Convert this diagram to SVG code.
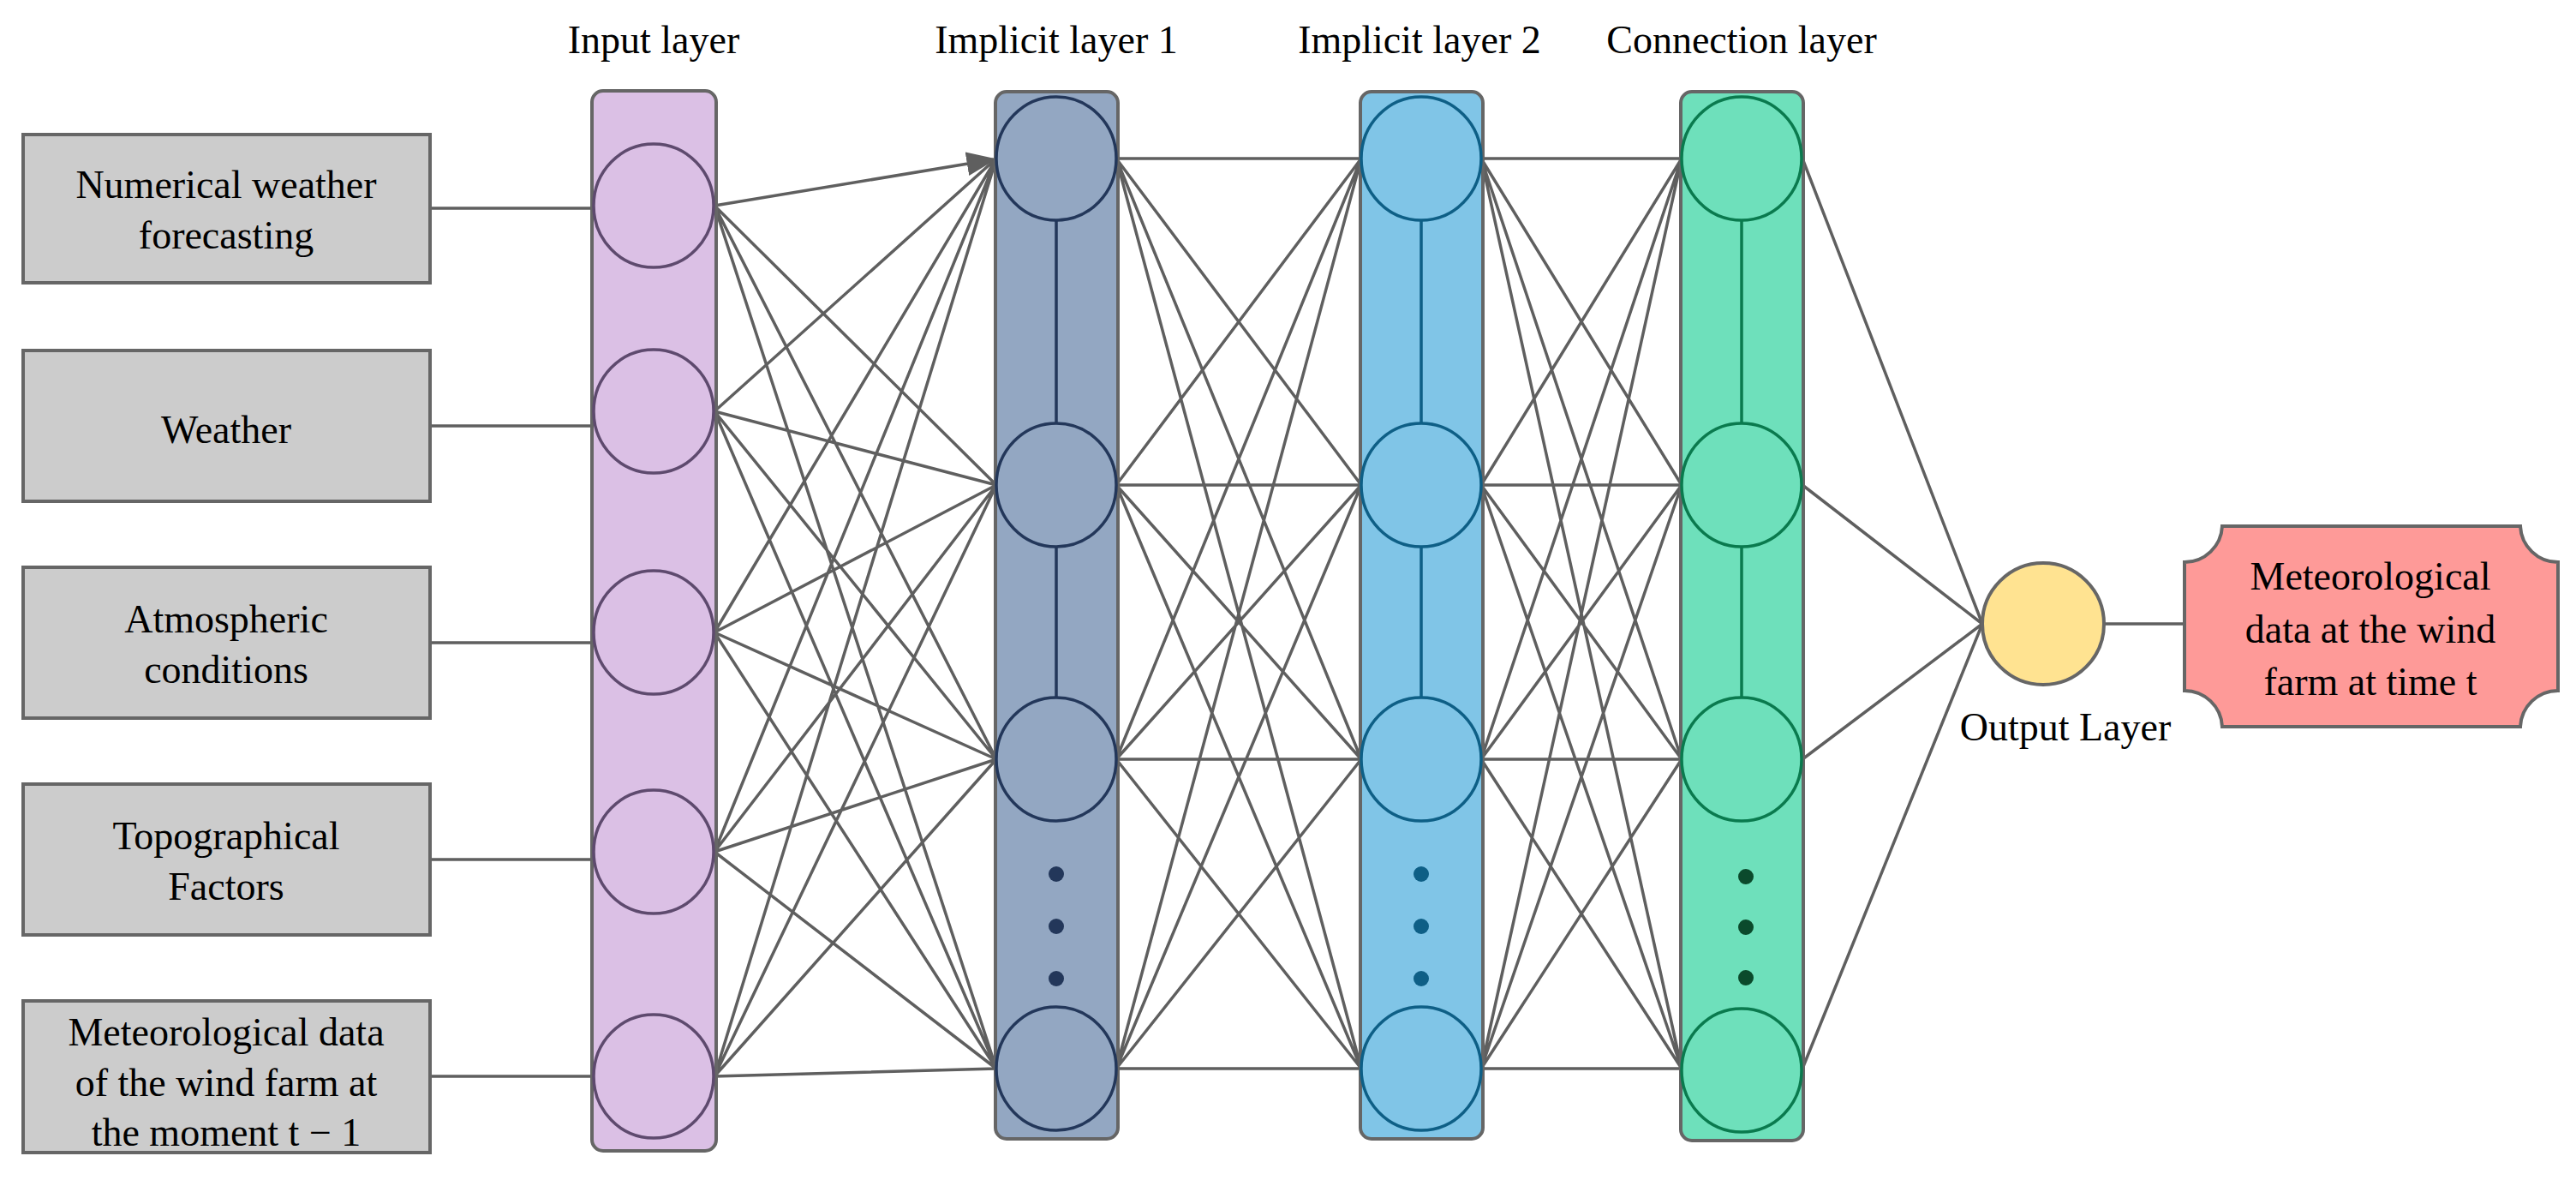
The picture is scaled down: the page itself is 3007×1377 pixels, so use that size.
<svg xmlns="http://www.w3.org/2000/svg" width="3007" height="1377" viewBox="0 0 3007 1377">
<style>
text{font-family:"Liberation Serif","Times New Roman",serif;font-size:46px;fill:#000;text-anchor:middle}
.box{fill:#cccccc;stroke:#666;stroke-width:4}
.col{stroke:#666;stroke-width:4}
.ln{stroke:#5f5f5f;stroke-width:3.5;fill:none}
</style>
<defs><marker id="ah" markerWidth="10" markerHeight="8" refX="9" refY="4" orient="auto" markerUnits="strokeWidth"><path d="M0,0 L10,4 L0,8 z" fill="#5f5f5f"/></marker></defs>
<g id="connectors" class="ln">
<path d="M502,243H692M502,497H692M502,750H692M502,1003H692M502,1256H692"/>
<path marker-end="url(#ah)" d="M834,240L1160,186"/>
<path d="M834,240L1163,566M834,240L1163,886M834,240L1163,1247
M834,480L1163,185M834,480L1163,566M834,480L1163,886M834,480L1163,1247
M834,738L1163,185M834,738L1163,566M834,738L1163,886M834,738L1163,1247
M834,994L1163,185M834,994L1163,566M834,994L1163,886M834,994L1163,1247
M834,1256L1163,185M834,1256L1163,566M834,1256L1163,886M834,1256L1163,1247"/>
<path d="M1303,185L1589,185M1303,185L1589,566M1303,185L1589,886M1303,185L1589,1247
M1303,566L1589,185M1303,566L1589,566M1303,566L1589,886M1303,566L1589,1247
M1303,886L1589,185M1303,886L1589,566M1303,886L1589,886M1303,886L1589,1247
M1303,1247L1589,185M1303,1247L1589,566M1303,1247L1589,886M1303,1247L1589,1247"/>
<path d="M1729,185L1963,185M1729,185L1963,566M1729,185L1963,886M1729,185L1963,1247
M1729,566L1963,185M1729,566L1963,566M1729,566L1963,886M1729,566L1963,1247
M1729,886L1963,185M1729,886L1963,566M1729,886L1963,886M1729,886L1963,1247
M1729,1247L1963,185M1729,1247L1963,566M1729,1247L1963,886M1729,1247L1963,1247"/>
<path d="M2104,185L2314,728M2104,566L2314,728M2104,886L2314,728M2104,1247L2314,728M2456,728H2549"/>
</g>
<g id="in1"><rect class="box" x="27" y="157" width="475" height="173"/><text x="264" y="231">Numerical weather</text><text x="264" y="290">forecasting</text></g>
<g id="in2"><rect class="box" x="27" y="409" width="475" height="176"/><text x="264" y="517">Weather</text></g>
<g id="in3"><rect class="box" x="27" y="662" width="475" height="176"/><text x="264" y="738">Atmospheric</text><text x="264" y="797">conditions</text></g>
<g id="in4"><rect class="box" x="27" y="915" width="475" height="176"/><text x="264" y="991">Topographical</text><text x="264" y="1050">Factors</text></g>
<g id="in5"><rect class="box" x="27" y="1168" width="475" height="177"/><text x="264" y="1220">Meteorological data</text><text x="264" y="1279">of the wind farm at</text><text x="264" y="1337">the moment t − 1</text></g>
<g id="input-layer">
<text x="763" y="62">Input layer</text>
<rect class="col" x="691" y="106" width="145" height="1237" rx="13" fill="#dbc0e5"/>
<g fill="#dbc0e5" stroke="#5e4a6e" stroke-width="3.5">
<ellipse cx="763" cy="240" rx="70" ry="72"/><ellipse cx="763" cy="480" rx="70" ry="72"/><ellipse cx="763" cy="738" rx="70" ry="72"/><ellipse cx="763" cy="994" rx="70" ry="72"/><ellipse cx="763" cy="1256" rx="70" ry="72"/></g>
</g>
<g id="hidden1">
<text x="1233" y="62">Implicit layer 1</text>
<rect class="col" x="1162" y="107" width="143" height="1222" rx="13" fill="#93a7c2"/>
<path d="M1233,257V494M1233,638V814" stroke="#23375a" stroke-width="3.5"/>
<g fill="#93a7c2" stroke="#23375a" stroke-width="3.5">
<ellipse cx="1233" cy="185" rx="70" ry="72"/><ellipse cx="1233" cy="566" rx="70" ry="72"/><ellipse cx="1233" cy="886" rx="70" ry="72"/><ellipse cx="1233" cy="1247" rx="70" ry="72"/></g>
<g fill="#23375a"><circle cx="1233" cy="1020" r="9"/><circle cx="1233" cy="1081" r="9"/><circle cx="1233" cy="1142" r="9"/></g>
</g>
<g id="hidden2">
<text x="1657" y="62">Implicit layer 2</text>
<rect class="col" x="1588" y="107" width="143" height="1222" rx="13" fill="#80c5e7"/>
<path d="M1659,257V494M1659,638V814" stroke="#0e5f86" stroke-width="3.5"/>
<g fill="#80c5e7" stroke="#0e5f86" stroke-width="3.5">
<ellipse cx="1659" cy="185" rx="70" ry="72"/><ellipse cx="1659" cy="566" rx="70" ry="72"/><ellipse cx="1659" cy="886" rx="70" ry="72"/><ellipse cx="1659" cy="1247" rx="70" ry="72"/></g>
<g fill="#0e5f86"><circle cx="1659" cy="1020" r="9"/><circle cx="1659" cy="1081" r="9"/><circle cx="1659" cy="1142" r="9"/></g>
</g>
<g id="connection">
<text x="2033" y="62">Connection layer</text>
<rect class="col" x="1962" y="107" width="143" height="1224" rx="13" fill="#6ee0bb"/>
<path d="M2033,257V494M2033,638V814" stroke="#0a7a4e" stroke-width="3.5"/>
<g fill="#6ee0bb" stroke="#0a7a4e" stroke-width="3.5">
<ellipse cx="2033" cy="185" rx="70" ry="72"/><ellipse cx="2033" cy="566" rx="70" ry="72"/><ellipse cx="2033" cy="886" rx="70" ry="72"/><ellipse cx="2033" cy="1249" rx="70" ry="72"/></g>
<g fill="#0b4a2c"><circle cx="2038" cy="1023" r="9"/><circle cx="2038" cy="1082" r="9"/><circle cx="2038" cy="1141" r="9"/></g>
</g>
<g id="output">
<circle cx="2385" cy="728" r="71" fill="#ffe391" stroke="#666" stroke-width="4"/>
<text x="2411" y="864">Output Layer</text>
</g>
<g id="result">
<path d="M2594,614H2942A44,44 0 0 0 2986,656V806A44,44 0 0 0 2942,848H2594A44,44 0 0 0 2550,806V656A44,44 0 0 0 2594,614Z" fill="#fe9a98" stroke="#666" stroke-width="4"/>
<text x="2767" y="688">Meteorological</text><text x="2767" y="750">data at the wind</text><text x="2767" y="811">farm at time t</text>
</g>
</svg>
